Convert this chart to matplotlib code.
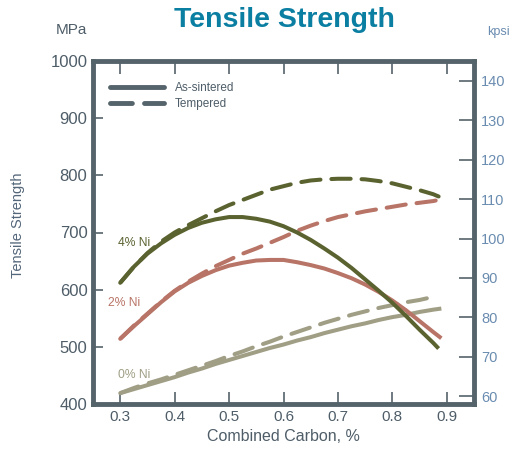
import matplotlib
matplotlib.use("Agg")
import matplotlib.pyplot as plt
from matplotlib.lines import Line2D

plt.rcParams['font.family'] = ['Liberation Sans', 'DejaVu Sans']

# ---- data (MPa) ----
carbon = [0.300, 0.325, 0.350, 0.375, 0.400, 0.425, 0.450, 0.475, 0.500, 0.525, 0.550, 0.575,
          0.600, 0.625, 0.650, 0.675, 0.700, 0.725, 0.750, 0.775, 0.800, 0.825, 0.850, 0.875]

carbon_ni4 = carbon + [0.885]
ni4_sintered = [612, 640, 663, 681, 696, 708, 717, 723, 727, 727, 724, 719,
                711, 700, 687, 672, 656, 638, 618, 598, 577, 554, 530, 507, 497]
ni4_tempered = [612, 640, 664, 684, 700, 713, 725, 737, 748, 757, 766, 775,
                781, 787, 791, 793, 794, 794, 793, 790, 786, 780, 774, 767, 763]

carbon_ni2 = carbon + [0.890]
ni2_sintered = [514, 536, 557, 578, 597, 612, 624, 634, 642, 647, 651, 652,
                652, 648, 643, 637, 629, 620, 609, 596, 581, 564, 545, 526, 515]
ni2_tempered = [514, 537, 558, 579, 598, 614, 628, 641, 652, 663, 672, 682,
                692, 703, 712, 720, 727, 732, 737, 741, 745, 749, 752, 755, 758]

carbon_ni0_s = carbon + [0.890]
ni0_sintered = [419, 426, 433, 440, 447, 455, 462, 470, 477, 484, 491, 498,
                504, 511, 517, 524, 530, 536, 541, 547, 552, 556, 561, 565, 567]
carbon_ni0_t = carbon[:-1] + [0.878]
ni0_tempered = [419, 428, 436, 443, 451, 459, 467, 475, 484, 492, 501, 509,
                518, 526, 534, 542, 549, 556, 562, 568, 573, 578, 582, 588]

x_ticks = [0.3, 0.4, 0.5, 0.6, 0.7, 0.8, 0.9]
x_ticklabels = ["0.3", "0.4", "0.5", "0.6", "0.7", "0.8", "0.9"]
mpa_ticks = [400, 500, 600, 700, 800, 900, 1000]
kpsi_ticks = [60, 70, 80, 90, 100, 110, 120, 130, 140]
series_labels = ["4% Ni", "2% Ni", "0% Ni"]
legend_labels = ["As-sintered", "Tempered"]

C_OLIVE = "#5a6330"
C_SALMON = "#b87466"
C_KHAKI = "#a09e85"
C_SPINE = "#55636b"
C_TITLE = "#0b7fa2"
C_LEFT = "#4e5d68"
C_RIGHT = "#6a8cb0"

fig = plt.figure(figsize=(5.25, 4.51), dpi=100)
ax = fig.add_axes([93/525, 1-404/451, (474-93)/525, (404-61)/451])
ax.set_xlim(0.25, 0.95)
ax.set_ylim(400, 1000)

for s in ax.spines.values():
    s.set_linewidth(3.5)
    s.set_color(C_SPINE)

LW = 2.9
DASH = (4.8, 2.7)
ax.plot(carbon_ni0_s, ni0_sintered, color=C_KHAKI, lw=LW, solid_capstyle='butt')
ax.plot(carbon_ni0_t, ni0_tempered, color=C_KHAKI, lw=LW, dashes=DASH, dash_capstyle='round')
ax.plot(carbon_ni2, ni2_sintered, color=C_SALMON, lw=LW, solid_capstyle='butt')
ax.plot(carbon_ni2, ni2_tempered, color=C_SALMON, lw=LW, dashes=DASH, dash_capstyle='round')
ax.plot(carbon_ni4, ni4_sintered, color=C_OLIVE, lw=LW, solid_capstyle='butt')
ax.plot(carbon_ni4, ni4_tempered, color=C_OLIVE, lw=LW, dashes=DASH, dash_capstyle='round')

ax.text(0.296, 682, series_labels[0], color=C_OLIVE, fontsize=8.7, va='center', ha='left')
ax.text(0.277, 577, series_labels[1], color=C_SALMON, fontsize=8.7, va='center', ha='left')
ax.text(0.296, 451, series_labels[2], color=C_KHAKI, fontsize=8.7, va='center', ha='left')

ax.set_xticks(x_ticks)
ax.set_xticklabels(x_ticklabels)
ax.set_yticks(mpa_ticks)
ax.tick_params(axis='x', direction='in', top=True, bottom=True, length=9, width=1.2,
               color=C_SPINE, labelsize=11, labelcolor=C_LEFT, pad=4)
ax.tick_params(axis='y', direction='in', left=True, right=False, length=7, width=1.2,
               color=C_SPINE, labelsize=12, labelcolor=C_LEFT, pad=4)

sec = ax.secondary_yaxis('right', functions=(lambda m: m / 6.894757, lambda k: k * 6.894757))
sec.set_yticks(kpsi_ticks)
sec.spines['right'].set_visible(False)
sec.tick_params(direction='in', length=11, width=1.2, color=C_SPINE,
                labelsize=10.5, labelcolor=C_RIGHT, pad=5)

ax.set_xlabel("Combined Carbon, %", fontsize=11.5, color=C_LEFT, labelpad=4)
ax.set_ylabel("Tensile Strength", fontsize=10.5, color="#54667a", labelpad=10)
ax.yaxis.set_label_coords(-0.178, 0.52)

fig.text(87/525, 1-30/451, "MPa", fontsize=11, color=C_LEFT, ha='right', va='center')
fig.text(498/525, 1-32/451, "kpsi", fontsize=9, color=C_RIGHT, ha='center', va='center')
fig.text(284/525, 1-20/451, "Tensile Strength", fontsize=20.5, fontweight='bold',
         color=C_TITLE, ha='center', va='center')

handles = [Line2D([], [], color=C_SPINE, lw=3.5, solid_capstyle='round'),
           Line2D([], [], color=C_SPINE, lw=3.5, dashes=(4.5, 2.5), dash_capstyle='round')]
ax.legend(handles, legend_labels, loc='upper left', bbox_to_anchor=(0.017, 0.97),
          frameon=False, fontsize=8.5, handlelength=4.6, handletextpad=0.9,
          labelspacing=0.35, labelcolor=C_LEFT)

fig.savefig("out.png", dpi=100)
